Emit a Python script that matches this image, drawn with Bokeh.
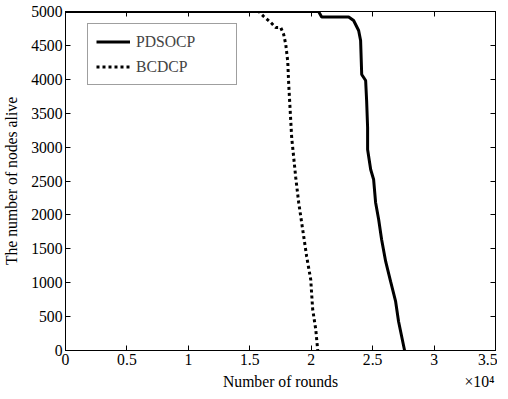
from bokeh.plotting import figure
from bokeh.models import Range1d, LinearAxis, FixedTicker, Legend, LegendItem
from bokeh.embed import file_html
from bokeh.resources import INLINE

# ---- data ----
pdsocp_rounds = [0, 20600, 20850, 23050, 23450, 23860, 24020, 24110, 24430, 24510,
                 24590, 24590, 24840, 25080, 25240, 25490, 25730, 26060, 26460,
                 26870, 27110, 27600]
pdsocp_alive = [5000, 5000, 4920, 4920, 4867, 4720, 4572, 4071, 3982, 3687,
                3289, 2965, 2670, 2522, 2183, 1932, 1637, 1313, 1018,
                723, 428, 0]

bcdcp_rounds = [0, 15730, 16140, 16710, 17110, 17520, 17760, 17930, 18090, 18170,
                18410, 18740, 18980, 19390, 19630, 19960, 20120, 20370, 20530]
bcdcp_alive = [5000, 5000, 4926, 4838, 4764, 4764, 4661, 4513, 4262, 3923,
               3142, 2552, 2183, 1681, 1386, 1047, 605, 310, 0]

x_ticks = [0, 5000, 10000, 15000, 20000, 25000, 30000, 35000]
x_tick_labels = ["0", "0.5", "1", "1.5", "2", "2.5", "3", "3.5"]
y_ticks = [0, 500, 1000, 1500, 2000, 2500, 3000, 3500, 4000, 4500, 5000]

series_names = ["PDSOCP", "BCDCP"]
x_title = "Number of rounds"
y_title = "The number of nodes alive"
x_multiplier = "\u00d710\u2074"

FONT = "Liberation Serif"
FS = "15.7px"

p = figure(frame_width=430, frame_height=339,
           x_range=Range1d(0, 35000), y_range=Range1d(0, 5000),
           output_backend="svg", toolbar_location=None,
           min_border_left=61, min_border_right=2, min_border_top=11,
           min_border_bottom=0,
           background_fill_color="white", border_fill_color="white")
p.grid.visible = False
p.outline_line_color = "black"
p.outline_line_width = 1

def style_axis(ax, show_labels=True):
    ax.axis_line_color = "black"
    ax.major_tick_line_color = "black"
    ax.major_tick_in = 5
    ax.major_tick_out = 0
    ax.minor_tick_line_color = None
    ax.major_label_text_font = FONT
    ax.major_label_text_color = "black"
    ax.axis_label_text_font = FONT
    ax.axis_label_text_font_style = "normal"
    ax.axis_label_text_color = "black"
    ax.axis_label_text_font_size = FS
    ax.major_label_text_font_size = FS
    if not show_labels:
        ax.major_label_overrides = {t: "" for t in ax.ticker.ticks}
        ax.major_label_text_font_size = "1px"
        ax.major_label_standoff = 0

xa = p.xaxis[0]
xa.ticker = FixedTicker(ticks=x_ticks)
xa.major_label_overrides = {t: l for t, l in zip(x_ticks, x_tick_labels)}
style_axis(xa)
xa.major_label_standoff = 3

# second row below the x tick labels: axis title and the x10^4 multiplier
title_ticks = [17500, 33700]
xa2 = LinearAxis(ticker=FixedTicker(ticks=title_ticks))
style_axis(xa2)
xa2.major_label_overrides = {title_ticks[0]: x_title, title_ticks[1]: x_multiplier}
xa2.axis_line_color = None
xa2.major_tick_line_color = None
xa2.major_label_standoff = 5
p.add_layout(xa2, "below")

ya = p.yaxis[0]
ya.ticker = FixedTicker(ticks=y_ticks)
ya.axis_label = y_title
style_axis(ya)
ya.major_label_standoff = 3
ya.axis_label_standoff = 8

top = LinearAxis(ticker=FixedTicker(ticks=x_ticks))
style_axis(top, show_labels=False)
p.add_layout(top, "above")
right = LinearAxis(ticker=FixedTicker(ticks=y_ticks))
style_axis(right, show_labels=False)
p.add_layout(right, "right")

r1 = p.line(pdsocp_rounds, pdsocp_alive, line_color="black", line_width=3)
r2 = p.line(bcdcp_rounds, bcdcp_alive, line_color="black", line_width=3,
            line_dash="3 3")

legend = Legend(items=[LegendItem(label=series_names[0], renderers=[r1]),
                       LegendItem(label=series_names[1], renderers=[r2])],
                location=(22, 265), padding=8, spacing=6, margin=0,
                glyph_width=34, glyph_height=19, label_height=19,
                label_standoff=6, label_width=92,
                label_text_font=FONT, label_text_font_size=FS,
                border_line_color="#404040", border_line_width=1,
                background_fill_alpha=1.0)
p.add_layout(legend)

open("out.html", "w").write(file_html(p, INLINE))
